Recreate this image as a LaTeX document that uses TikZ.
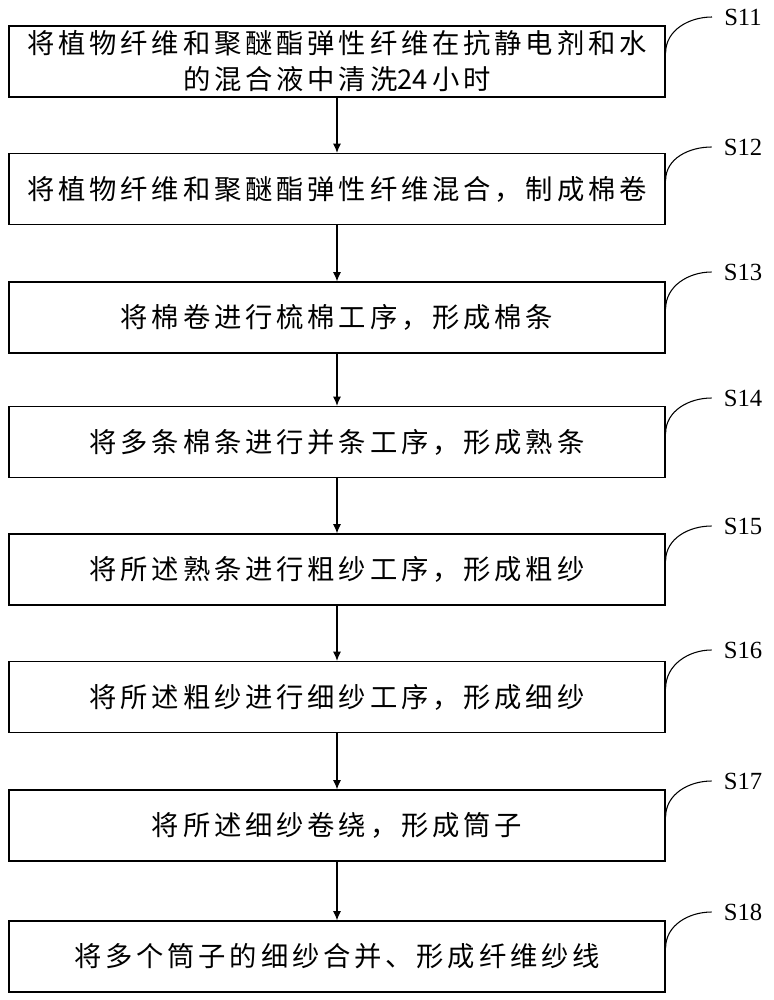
\documentclass[tikz,border=0pt]{standalone}
\usepackage{fontspec}
\newfontfamily\cjk[LetterSpace=14]{Noto Sans CJK SC}
\newfontfamily\cjknum{Noto Sans CJK SC}
\newfontfamily\lblfont{Liberation Serif}
\usetikzlibrary{arrows.meta}
\tikzset{
  stepbox/.style={draw, line width=0.9pt, minimum width=492pt, minimum height=53.25pt,
    inner sep=0pt, align=center, font=\cjk\fontsize{20.5}{27}\selectfont},
  steplabel/.style={font=\lblfont\fontsize{18.5}{20}\selectfont, inner sep=0pt},
  flow/.style={-{Latex[length=7pt,width=6pt]}, line width=0.8pt},
  labelcurve/.style={line width=0.8pt}
}
\begin{document}
\begin{tikzpicture}[x=0.75pt,y=-0.75pt]
\useasboundingbox (0,0) rectangle (774,1000);

%Schritte
\node[stepbox] (b1) at (337,61.5) {将植物纤维和聚醚酯弹性纤维在抗静电剂和水\\的混合液中清洗{\cjknum 24}\,小时};
\node[stepbox] (b2) at (337,189) {将植物纤维和聚醚酯弹性纤维混合，制成棉卷};
\node[stepbox] (b3) at (337,317.5) {将棉卷进行梳棉工序，形成棉条};
\node[stepbox] (b4) at (337,442) {将多条棉条进行并条工序，形成熟条};
\node[stepbox] (b5) at (337,569.5) {将所述熟条进行粗纱工序，形成粗纱};
\node[stepbox] (b6) at (337,697) {将所述粗纱进行细纱工序，形成细纱};
\node[stepbox] (b7) at (337,825.5) {将所述细纱卷绕，形成筒子};
\node[stepbox] (b8) at (337,956.5) {将多个筒子的细纱合并、形成纤维纱线};

%Pfeile
\draw[flow] (b1) -- (b2);
\draw[flow] (b2) -- (b3);
\draw[flow] (b3) -- (b4);
\draw[flow] (b4) -- (b5);
\draw[flow] (b5) -- (b6);
\draw[flow] (b6) -- (b7);
\draw[flow] (b7) -- (b8);

%Bezeichnungen
\node[steplabel] (s11) at (743,17) {S11};
\node[steplabel] (s12) at (743,147) {S12};
\node[steplabel] (s13) at (743,272) {S13};
\node[steplabel] (s14) at (743,398) {S14};
\node[steplabel] (s15) at (743,526) {S15};
\node[steplabel] (s16) at (743,650) {S16};
\node[steplabel] (s17) at (743,781) {S17};
\node[steplabel] (s18) at (743,912) {S18};

\draw[labelcurve] ([yshift=6.4pt]b1.east) to[out=90,in=180] ([xshift=-9pt]s11.west);
\draw[labelcurve] ([yshift=6.4pt]b2.east) to[out=90,in=180] ([xshift=-9pt]s12.west);
\draw[labelcurve] ([yshift=6.4pt]b3.east) to[out=90,in=180] ([xshift=-9pt]s13.west);
\draw[labelcurve] ([yshift=6.4pt]b4.east) to[out=90,in=180] ([xshift=-9pt]s14.west);
\draw[labelcurve] ([yshift=6.4pt]b5.east) to[out=90,in=180] ([xshift=-9pt]s15.west);
\draw[labelcurve] ([yshift=6.4pt]b6.east) to[out=90,in=180] ([xshift=-9pt]s16.west);
\draw[labelcurve] ([yshift=6.4pt]b7.east) to[out=90,in=180] ([xshift=-9pt]s17.west);
\draw[labelcurve] ([yshift=6.4pt]b8.east) to[out=90,in=180] ([xshift=-9pt]s18.west);

\end{tikzpicture}
\end{document}
